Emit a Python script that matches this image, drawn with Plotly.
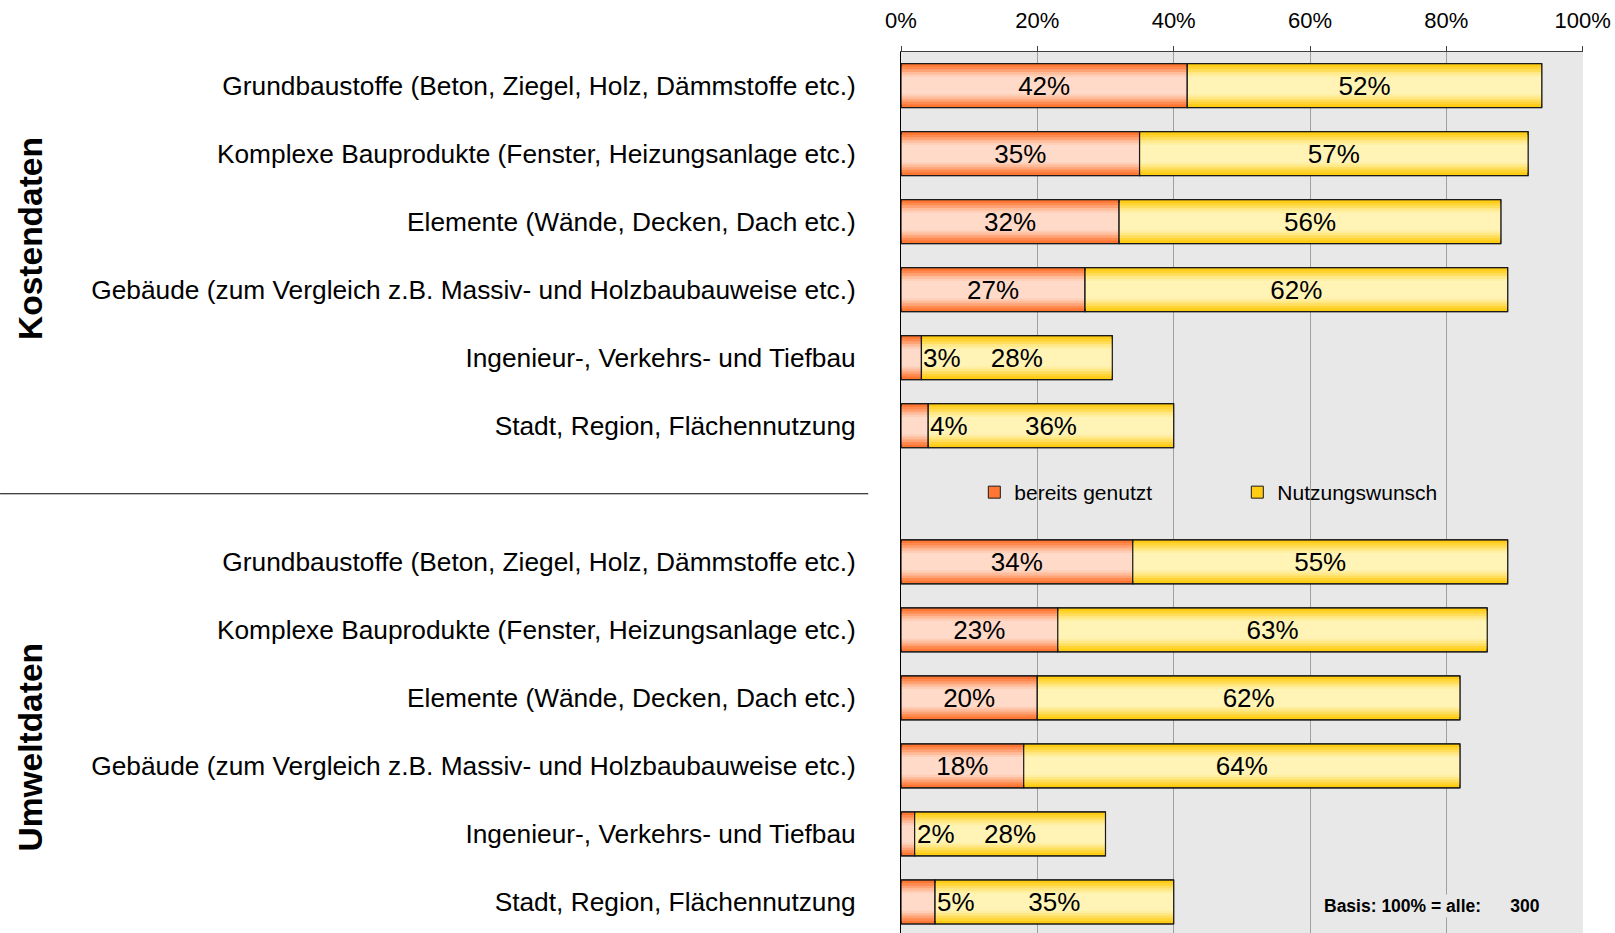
import plotly.graph_objects as go

# ---- data ----
categories = [
    "Grundbaustoffe (Beton, Ziegel, Holz, Dämmstoffe etc.)",
    "Komplexe Bauprodukte (Fenster, Heizungsanlage etc.)",
    "Elemente (Wände, Decken, Dach etc.)",
    "Gebäude (zum Vergleich z.B. Massiv- und Holzbaubauweise etc.)",
    "Ingenieur-, Verkehrs- und Tiefbau",
    "Stadt, Region, Flächennutzung",
]
groups = ["Kostendaten", "Umweltdaten"]
bereits_kosten = [42, 35, 32, 27, 3, 4]
wunsch_kosten = [52, 57, 56, 62, 28, 36]
bereits_umwelt = [34, 23, 20, 18, 2, 5]
wunsch_umwelt = [55, 63, 62, 64, 28, 35]
series_names = ["bereits genutzt", "Nutzungswunsch"]
x_ticks = [0, 20, 40, 60, 80, 100]
x_ticklabels = ["0%", "20%", "40%", "60%", "80%", "100%"]
basis_text = "Basis: 100% = alle:"
basis_n = 300

# ---- derived ----
slots = list(range(0, 6)) + list(range(7, 13))
labels = categories + categories
bereits = bereits_kosten + bereits_umwelt
wunsch = wunsch_kosten + wunsch_umwelt

FONT = "Liberation Sans, Arial, sans-serif"
BARW = 0.647
SMALL = 10

def mix(c1, c2, t):
    return "rgb(%d,%d,%d)" % tuple(round(a + (b - a) * t) for a, b in zip(c1, c2))

orange_dark, orange_light = (255, 118, 50), (255, 218, 200)
yellow_dark, yellow_light = (255, 204, 20), (255, 244, 182)
layer_f = [1.0, 0.86, 0.74, 0.62, 0.5, 0.4]
layer_t = [0.0, 0.2, 0.45, 0.7, 0.88, 1.0]

fig = go.Figure()

def add_series(vals, base, dark, light, name, small_outside):
    for k, (f, t) in enumerate(zip(layer_f, layer_t)):
        fig.add_trace(go.Bar(
            orientation="h", y=slots, x=vals, base=base, width=BARW * f,
            marker=dict(color=mix(dark, light, t),
                        line=dict(color="#1a1a1a", width=1 if k == 0 else 0)),
            name=name, showlegend=(k == 0), legendgroup=name, hoverinfo="skip",
        ))
    inside_text = ["" if (small_outside and v < SMALL) else f"{v}%" for v in vals]
    fig.add_trace(go.Bar(
        orientation="h", y=slots, x=vals, base=base, width=BARW,
        marker=dict(color="rgba(0,0,0,0)", line=dict(color="#1a1a1a", width=1.2)),
        text=inside_text, textposition="inside", insidetextanchor="middle",
        textfont=dict(family=FONT, size=26, color="black"),
        constraintext="none", showlegend=False, legendgroup=name, hoverinfo="skip",
    ))
    if small_outside:
        for s, v in zip(slots, vals):
            if v < SMALL:
                fig.add_annotation(x=v, y=s, xref="x", yref="y", text=f"{v}%",
                                   xanchor="left", yanchor="middle", showarrow=False,
                                   xshift=1, borderpad=0,
                                   font=dict(family=FONT, size=26, color="black"))

add_series(bereits, [0] * len(bereits), orange_dark, orange_light, series_names[0], True)
add_series(wunsch, bereits, yellow_dark, yellow_light, series_names[1], False)

# group labels
fig.add_annotation(text=f"<b>{groups[0]}</b>", xref="paper", yref="y", x=-1.2757, y=2.24,
                   xanchor="center", yanchor="middle",
                   textangle=-90, showarrow=False, font=dict(family=FONT, size=33.5, color="black"))
fig.add_annotation(text=f"<b>{groups[1]}</b>", xref="paper", yref="y", x=-1.2757, y=9.73,
                   xanchor="center", yanchor="middle",
                   textangle=-90, showarrow=False, font=dict(family=FONT, size=33.5, color="black"))
# basis note
fig.add_annotation(text="<b>" + basis_text + "\u00a0" * 6 + str(basis_n) + "</b>",
                   xref="paper", yref="paper", x=0.617, y=0.031, xanchor="left", yanchor="middle",
                   showarrow=False, bgcolor="#e8e8e8", font=dict(family=FONT, size=17.5, color="black"))
# separator line
fig.add_shape(type="line", xref="paper", yref="y", x0=-1.321, x1=-0.048, y0=6, y1=6,
              line=dict(color="black", width=1))

fig.update_layout(
    width=1615, height=933,
    margin=dict(l=901, r=32, t=52, b=0),
    paper_bgcolor="white", plot_bgcolor="#e8e8e8",
    barmode="overlay",
    font=dict(family=FONT, color="black"),
    legend=dict(orientation="h", x=0.1075, y=0.5, xanchor="left", yanchor="middle",
                bgcolor="rgba(0,0,0,0)", font=dict(family=FONT, size=21),
                entrywidth=218, entrywidthmode="pixels", traceorder="normal"),
    xaxis=dict(range=[0, 100.05], side="top", tickvals=x_ticks, ticktext=x_ticklabels,
               ticks="outside", ticklen=5, tickcolor="#404040", ticklabelstandoff=9,
               showline=True, linecolor="#404040", linewidth=1,
               showgrid=True, gridcolor="#a0a0a0", gridwidth=1, zeroline=False,
               tickfont=dict(family=FONT, size=22), fixedrange=True),
    yaxis=dict(range=[12.456, -0.493], tickvals=slots, ticktext=labels,
               ticks="", showline=True, linecolor="black", linewidth=1,
               showgrid=False, zeroline=False, ticklabelstandoff=39,
               tickfont=dict(family=FONT, size=26.3), fixedrange=True),
)

fig.write_html("out.html", config={"displayModeBar": False},
               post_script="document.body.style.margin='0';")
